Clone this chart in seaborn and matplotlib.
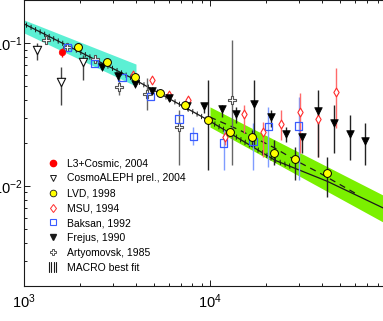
import numpy as np
import pandas as pd
import matplotlib
matplotlib.use("Agg")
import matplotlib.pyplot as plt
import seaborn as sns
from matplotlib import patheffects
from matplotlib.legend_handler import HandlerBase
from matplotlib.lines import Line2D
from matplotlib.ticker import LogLocator, NullFormatter

# ---------------- data (energy, value, error-bar low / high) ----------------
l3_E = [1595]
l3_y = [0.0868]
l3_lo = [0.0797]
l3_hi = [0.0922]

cosmo_E = [1175, 1569, 2076]
cosmo_y = [0.0892, 0.0535, 0.0739]
cosmo_lo = [0.0760, 0.0367, 0.0550]
cosmo_hi = [0.0999, 0.0682, 0.0823]

lvd_E = [1937, 2795, 3937, 5397, 7310, 9755, 12760, 16750, 22000, 28530, 42560]
lvd_y = [0.0932, 0.0739, 0.0575, 0.0444, 0.0367, 0.0290, 0.0238, 0.0219, 0.0171, 0.0155, 0.0123]
lvd_lo = [0.0932, 0.0739, 0.0575, 0.0444, 0.0356, 0.0129, 0.0222, 0.0193, 0.0140, 0.0110, 0.00833]
lvd_hi = [0.0932, 0.0739, 0.0575, 0.0444, 0.0380, 0.0550, 0.0254, 0.0245, 0.0209, 0.0187, 0.0159]

msu_E = [3826, 4841, 6020, 7616, 11995, 15140, 19200, 24070, 30170, 38060, 47400]
msu_y = [0.0601, 0.0550, 0.0432, 0.0398, 0.0221, 0.0318, 0.0240, 0.0273, 0.0328, 0.0293, 0.0451]
msu_lo = [0.0601, 0.0550, 0.0432, 0.0398, 0.0193, 0.0234, 0.0159, 0.0209, 0.0169, 0.0159, 0.0254]
msu_hi = [0.0601, 0.0550, 0.0432, 0.0398, 0.0238, 0.0367, 0.0279, 0.0339, 0.0446, 0.0339, 0.0668]

baksan_E = [1712, 2378, 3352, 4770, 6786, 8098, 11815, 16960, 20500, 29800]
baksan_y = [0.0926, 0.0720, 0.0571, 0.0421, 0.0293, 0.0221, 0.0199, 0.0204, 0.0259, 0.0262]
baksan_lo = [0.0926, 0.0720, 0.0571, 0.0421, 0.0293, 0.0193, 0.0129, 0.0129, 0.0135, 0.0110]
baksan_hi = [0.0926, 0.0720, 0.0571, 0.0421, 0.0293, 0.0258, 0.0245, 0.0275, 0.0356, 0.0418]

frejus_E = [2627, 3190, 3937, 4889, 6020, 7494, 9249, 11600, 13830, 17170, 21200,
            25680, 31120, 38060, 46240, 56360, 68100]
frejus_y = [0.0682, 0.0590, 0.0516, 0.0461, 0.0411, 0.0364, 0.0362, 0.0343, 0.0316, 0.0373, 0.0303,
            0.0230, 0.0219, 0.0333, 0.0274, 0.0230, 0.0207]
frejus_lo = [0.0682, 0.0590, 0.0516, 0.0461, 0.0411, 0.0364, 0.0323, 0.0303, 0.0275, 0.0187, 0.0258,
             0.0202, 0.0169, 0.0159, 0.0169, 0.0151, 0.0140]
frejus_hi = [0.0682, 0.0590, 0.0516, 0.0461, 0.0411, 0.0364, 0.0380, 0.0367, 0.0356, 0.0550, 0.0339,
             0.0258, 0.0234, 0.0468, 0.0367, 0.0313, 0.0275]

arty_E = [1316, 1688, 2399, 3242, 4550, 6811, 13030]
arty_y = [0.1057, 0.0937, 0.0768, 0.0495, 0.0442, 0.0260, 0.0398]
arty_lo = [0.0983, 0.0937, 0.0768, 0.0432, 0.0339, 0.0140, 0.0140]
arty_hi = [0.1136, 0.0937, 0.0768, 0.0568, 0.0568, 0.0339, 0.1048]

# fit curves and bands
fit_E = [1000, 3700, 9718, 22280, 42400, 99000]
fit_y = [0.1358, 0.0577, 0.0289, 0.0151, 0.01078, 0.00637]
macro_E = [1000, 3700, 9718, 22280, 27500]
macro_y = [0.1358, 0.0577, 0.0289, 0.0151, 0.01355]
dash_E = [9961, 14440, 22280, 29250, 38880, 61380]
dash_y = [0.0303, 0.0245, 0.01836, 0.01489, 0.01227, 0.00874]
cyan_E = [1000, 3985]
cyan_hi = [0.1448, 0.0712]
cyan_lo = [0.1174, 0.0499]
green_E = [9961, 99000]
green_hi = [0.0357, 0.00778]
green_lo = [0.0258, 0.00500]

labels = ["L3+Cosmic, 2004", "CosmoALEPH prel., 2004", "LVD, 1998", "MSU, 1994",
          "Baksan, 1992", "Frejus, 1990", "Artyomovsk, 1985", "MACRO best fit"]

# ---------------- figure ----------------
sns.set_theme(style="ticks")
plt.rcParams['font.family'] = ['Liberation Sans', 'DejaVu Sans']
plt.rcParams['axes.linewidth'] = 0.8

W, H = 383, 321
XMIN, XMAX = 1000, 99000
fig = plt.figure(figsize=(W / 100, H / 100), dpi=100)
ax = fig.add_axes([24.3 / W, 1 - 285.7 / H, 186 * np.log10(XMAX / XMIN) / W, 285.7 / H])
ax.set_xscale('log')
ax.set_yscale('log')
ax.set_xlim(XMIN, XMAX)
ax.set_ylim(0.002, 0.2)

# bands
ax.fill_between(cyan_E, cyan_lo, cyan_hi, color="#5CF0D4", lw=0, zorder=1)
ax.fill_between(green_E, green_lo, green_hi, color="#7BF000", lw=0, zorder=1)

# fit lines
sns.lineplot(x=fit_E, y=fit_y, ax=ax, color='k', lw=0.9, zorder=2)
sns.lineplot(x=dash_E, y=dash_y, ax=ax, color='k', lw=0.9, linestyle=(0, (5, 4)), zorder=2)
hl = ax.plot(macro_E, macro_y, color='k', lw=0.8, zorder=2)[0]
hl.set_path_effects([
    patheffects.TickedStroke(spacing=3.6, angle=116, length=0.45, linewidth=0.7),
    patheffects.TickedStroke(spacing=3.6, angle=-64, length=0.45, linewidth=0.7),
])


def errs(y, lo, hi):
    y = np.asarray(y); return [y - np.asarray(lo), np.asarray(hi) - y]


# error bars
ax.errorbar(arty_E, arty_y, yerr=errs(arty_y, arty_lo, arty_hi), fmt='none', ecolor="#666666", elinewidth=1, zorder=3)
ax.errorbar(cosmo_E, cosmo_y, yerr=errs(cosmo_y, cosmo_lo, cosmo_hi), fmt='none', ecolor="#444444", elinewidth=1, zorder=3)
ax.errorbar(baksan_E, baksan_y, yerr=errs(baksan_y, baksan_lo, baksan_hi), fmt='none', ecolor="#7f9cff", elinewidth=1, zorder=3)
ax.errorbar(msu_E, msu_y, yerr=errs(msu_y, msu_lo, msu_hi), fmt='none', ecolor="#ff6a6a", elinewidth=1, zorder=3)
ax.errorbar(frejus_E, frejus_y, yerr=errs(frejus_y, frejus_lo, frejus_hi), fmt='none', ecolor="#222222", elinewidth=1, zorder=3)
ax.errorbar(lvd_E, lvd_y, yerr=errs(lvd_y, lvd_lo, lvd_hi), fmt='none', ecolor="#222222", elinewidth=1, zorder=3)
ax.errorbar(l3_E, l3_y, yerr=errs(l3_y, l3_lo, l3_hi), fmt='none', ecolor="red", elinewidth=1, zorder=3)

# markers
sns.scatterplot(x=arty_E, y=arty_y, ax=ax, marker='P', s=38, facecolor='white', edgecolor="#555555", linewidth=0.8, zorder=4)
sns.scatterplot(x=cosmo_E, y=cosmo_y, ax=ax, marker='v', s=36, facecolor='white', edgecolor="#111111", linewidth=0.8, zorder=4)
sns.scatterplot(x=baksan_E, y=baksan_y, ax=ax, marker='s', s=28, facecolor='none', edgecolor="#3a5cff", linewidth=0.9, zorder=4)
sns.scatterplot(x=msu_E, y=msu_y, ax=ax, marker='d', s=20, facecolor='white', edgecolor="#ff2a2a", linewidth=0.8, zorder=4)
sns.scatterplot(x=frejus_E, y=frejus_y, ax=ax, marker='v', s=30, facecolor='black', edgecolor="black", linewidth=0.5, zorder=4)
sns.scatterplot(x=lvd_E, y=lvd_y, ax=ax, marker='o', s=32, facecolor='#ffff00', edgecolor="black", linewidth=0.7, zorder=5)
sns.scatterplot(x=l3_E, y=l3_y, ax=ax, marker='o', s=22, facecolor='red', edgecolor="red", linewidth=0.5, zorder=5)

# axes styling
ax.xaxis.set_major_locator(LogLocator(base=10))
ax.xaxis.set_minor_locator(LogLocator(base=10, subs=np.arange(2, 10)))
ax.yaxis.set_minor_locator(LogLocator(base=10, subs=np.arange(2, 10)))
ax.xaxis.set_minor_formatter(NullFormatter())
ax.yaxis.set_minor_formatter(NullFormatter())
ax.tick_params(which='both', direction='in', top=True, right=True, color='k', width=0.7)
ax.tick_params(which='major', length=4.5, labelsize=10.5, labelcolor='black')
ax.tick_params(which='minor', length=2.2)
ax.tick_params(axis='x', which='major', pad=5)
ax.tick_params(axis='y', which='major', pad=1.5)
for s in ax.spines.values():
    s.set_color('k')
    s.set_linewidth(0.8)
ax.set_xlabel('')
ax.set_ylabel('')


# legend
class MacroProxy:
    pass


class HatchHandler(HandlerBase):
    def create_artists(self, legend, orig_handle, xdescent, ydescent, width, height, fontsize, trans):
        arts = []
        for f in np.linspace(0.1, 0.75, 4):
            x = -xdescent + f * width
            arts.append(Line2D([x, x], [-ydescent - 0.15 * height, -ydescent + 1.2 * height],
                               color='k', lw=0.8, transform=trans))
        return arts


handles = [
    Line2D([], [], ls='none', marker='o', ms=4.5, mfc='red', mec='red'),
    Line2D([], [], ls='none', marker='v', ms=4.8, mfc='white', mec='k', mew=0.7),
    Line2D([], [], ls='none', marker='o', ms=4.8, mfc='#ffff00', mec='k', mew=0.6),
    Line2D([], [], ls='none', marker='d', ms=4.5, mfc='white', mec='#ff2a2a', mew=0.7),
    Line2D([], [], ls='none', marker='s', ms=4.5, mfc='white', mec='#3a5cff', mew=0.8),
    Line2D([], [], ls='none', marker='v', ms=4.8, mfc='k', mec='k'),
    Line2D([], [], ls='none', marker='P', ms=5, mfc='white', mec='#555555', mew=0.7),
    MacroProxy(),
]
leg = ax.legend(handles, labels, handler_map={MacroProxy: HatchHandler()},
                loc='upper left', bbox_to_anchor=(47.5 / W, 1 - 158.5 / H),
                bbox_transform=fig.transFigure, frameon=False, fontsize=7.5,
                handlelength=1.1, handletextpad=0.75, labelspacing=0.47,
                borderpad=0, borderaxespad=0)
for t in leg.get_texts():
    t.set_color('black')

fig.savefig("out.png", dpi=100)
